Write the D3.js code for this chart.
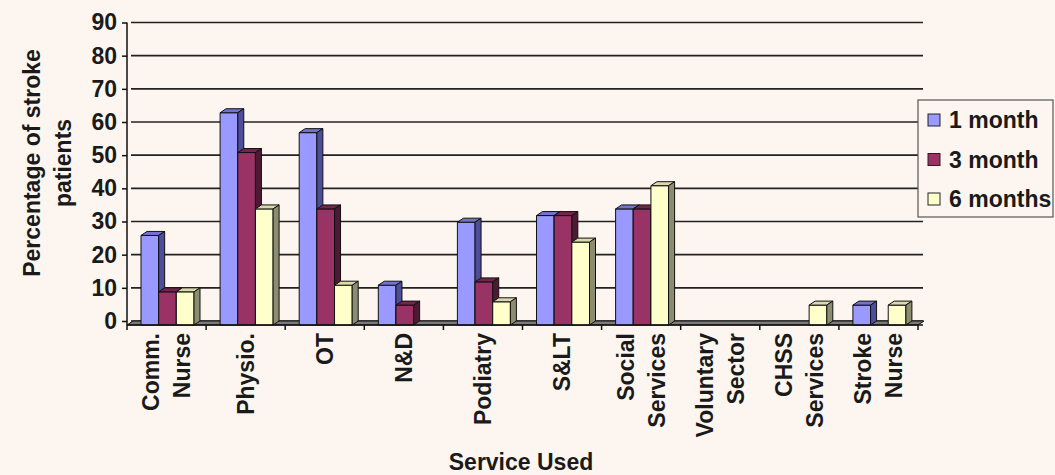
<!DOCTYPE html>
<html><head><meta charset="utf-8">
<script src="https://cdn.jsdelivr.net/npm/d3@7"></script>
<style>
html,body{margin:0;padding:0;background:#fdf6f0;}
svg{display:block;font-family:"Liberation Sans",Arial,sans-serif;font-weight:bold;}
</style></head>
<body>
<svg id="chart" width="1055" height="475"></svg>
<script>
const categories = ["Comm.\nNurse","Physio.","OT","N&D","Podiatry","S&LT","Social\nServices","Voluntary\nSector","CHSS\nServices","Stroke\nNurse"];
const seriesNames = ["1 month","3 month","6 months"];
const oneMonth   = [27, 64, 58, 12, 31, 33, 35, 0, 0, 6];
const threeMonth = [10, 52, 35, 6, 13, 33, 35, 0, 0, 0];
const sixMonths  = [10, 35, 12, 0, 7, 25, 42, 0, 6, 6];
const yTicks = [0,10,20,30,40,50,60,70,80,90];
const yTitle = ["Percentage of stroke","patients"];
const xTitle = "Service Used";

const frontColors = ["#9999ff","#993366","#ffffcc"];
const sideColors  = ["#4d4d99","#4d1a33","#8c8c70"];
const topColors   = ["#7373cc","#73264d","#d9d9ad"];
const seriesValues = [oneMonth, threeMonth, sixMonths];

const svg = d3.select("#chart");
const DX = 6, DY = 4;
const FS = 23;
const y = d3.scaleLinear().domain([0,90]).range([321,22.5]);
const x = d3.scaleBand().domain(categories).range([127,918]);
const xs = d3.scaleBand().domain(seriesNames).range([14,67]);
const base = y(0) + DY;

// gridlines (back wall)
svg.append("g").selectAll("line").data(yTicks).join("line")
  .attr("x1",131).attr("x2",923).attr("y1",d=>y(d)).attr("y2",d=>y(d))
  .attr("stroke","#222").attr("stroke-width",1.7);

// floor
svg.append("polygon")
  .attr("points",[[127,base],[918,base],[918+DX,base-DY],[127+DX,base-DY]].map(p=>p.join(",")).join(" "))
  .attr("fill","#7a7a7a").attr("stroke","#111").attr("stroke-width",1);

// bars
const bars = svg.append("g");
categories.forEach((c,ci)=>{
  seriesNames.forEach((s,si)=>{
    const v = seriesValues[si][ci];
    if(!v) return;
    const x0 = x(c)+xs(s), w = xs.bandwidth();
    const fy = y(v)+DY;
    const g = bars.append("g").attr("stroke","#111").attr("stroke-width",1).attr("stroke-linejoin","round");
    g.append("rect").attr("x",x0).attr("y",fy).attr("width",w).attr("height",base-fy).attr("fill",frontColors[si]);
    g.append("polygon").attr("points",[[x0,fy],[x0+w,fy],[x0+w+DX,fy-DY],[x0+DX,fy-DY]].map(p=>p.join(",")).join(" ")).attr("fill",topColors[si]);
    g.append("polygon").attr("points",[[x0+w,fy],[x0+w+DX,fy-DY],[x0+w+DX,base-DY],[x0+w,base]].map(p=>p.join(",")).join(" ")).attr("fill",sideColors[si]);
  });
});

// y axis
const yAxis = svg.append("g").attr("transform","translate(127,0)")
  .call(d3.axisLeft(y).tickValues(yTicks).tickSize(5).tickPadding(5));
yAxis.select(".domain").attr("stroke","#111").attr("stroke-width",1.5).attr("d","M0,22.5V"+(base));
yAxis.selectAll(".tick line").attr("stroke","#111").attr("stroke-width",1.5);
yAxis.selectAll(".tick text").attr("font-size",FS).attr("font-weight","bold").attr("fill","#1a1a1a")
  .attr("font-family","Liberation Sans, Arial, sans-serif");

// x axis
const xAxis = svg.append("g").attr("transform",`translate(0,${base})`);
xAxis.append("line").attr("x1",127).attr("x2",923).attr("stroke","#111").attr("stroke-width",1.5);
const bounds = categories.map(c=>x(c)).concat([x.range()[1]]);
xAxis.selectAll("line.t").data(bounds).join("line").attr("class","t")
  .attr("x1",d=>d).attr("x2",d=>d).attr("y1",0).attr("y2",5).attr("stroke","#111").attr("stroke-width",1.5);

categories.forEach(c=>{
  const lines = c.split("\n");
  const cx = x(c)+x.bandwidth()/2;
  lines.forEach((ln,i)=>{
    const off = (i-(lines.length-1)/2)*31;
    svg.append("text").attr("transform",`translate(${cx+off},333) rotate(-90)`)
      .attr("text-anchor","end").attr("dy","0.35em")
      .attr("font-size",FS).attr("fill","#1a1a1a").text(ln);
  });
});

// axis titles
yTitle.forEach((t,i)=>{
  svg.append("text").attr("transform",`translate(${32+i*31},163) rotate(-90)`)
    .attr("text-anchor","middle").attr("dy","0.35em").attr("font-size",FS).attr("fill","#1a1a1a").text(t);
});
svg.append("text").attr("x",521).attr("y",470).attr("text-anchor","middle")
  .attr("font-size",FS).attr("fill","#1a1a1a").text(xTitle);

// legend
const lg = svg.append("g");
lg.append("rect").attr("x",918).attr("y",100).attr("width",135).attr("height",117)
  .attr("fill","#fdf6f0").attr("stroke","#555").attr("stroke-width",1.2);
seriesNames.forEach((s,i)=>{
  const cy = 120 + i*39.5;
  lg.append("rect").attr("x",928).attr("y",cy-6).attr("width",12).attr("height",12)
    .attr("fill",frontColors[i]).attr("stroke","#222").attr("stroke-width",1);
  lg.append("text").attr("x",949).attr("y",cy).attr("dy","0.35em").attr("font-size",FS).attr("fill","#1a1a1a").text(s);
});
</script>
</body></html>
